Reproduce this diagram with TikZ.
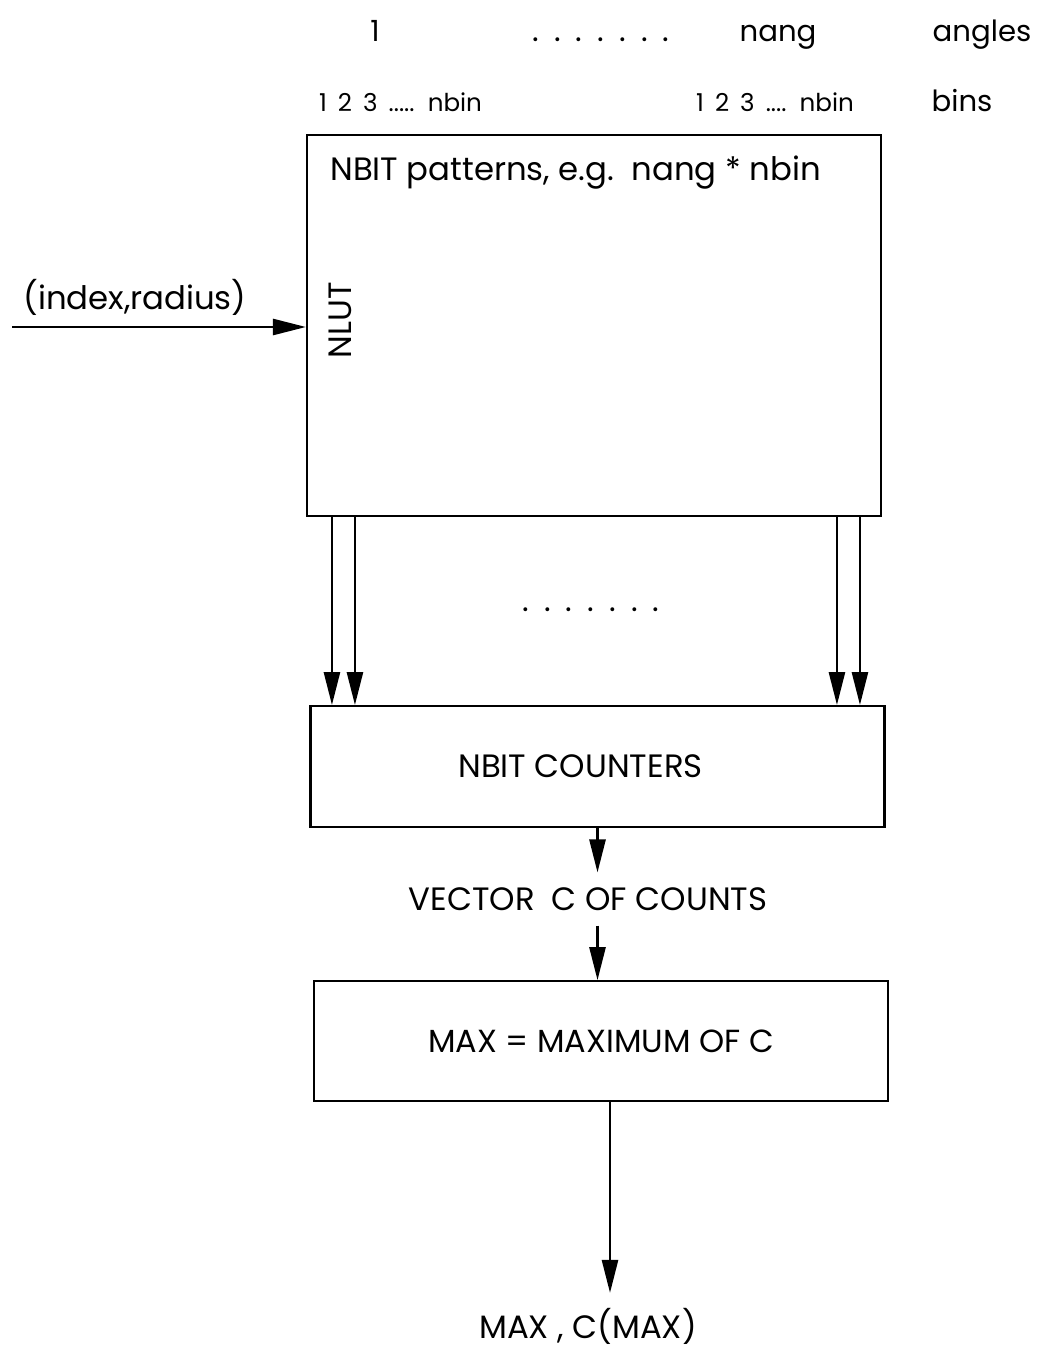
\documentclass[tikz,border=0pt]{standalone}
\usepackage{fontspec}
\setmainfont{Poppins}
\usetikzlibrary{arrows.meta,positioning}
\tikzset{
  box/.style={draw, line width=1.2pt, minimum width=11.48cm, inner sep=0pt,
              font=\fontsize{18.2}{22}\selectfont},
  lbl/.style={inner sep=0pt, font=\fontsize{18.4}{22}\selectfont},
  big/.style={inner sep=0pt, font=\fontsize{16.6}{20}\selectfont},
  small/.style={inner sep=0pt, font=\fontsize{14}{17}\selectfont,
                execute at begin node={\spaceskip=0.45em\relax}},
  dotrow/.style={inner sep=0pt, font=\fontsize{18}{22}\selectfont,
                 execute at begin node={\spaceskip=7pt\relax}},
  arr/.style={-{Triangle[length=0.66cm, width=0.32cm]}, line width=1.5pt},
}

\begin{document}
\begin{tikzpicture}
\useasboundingbox (0,0) rectangle (20.74,-26.94);

% angles and bins
\node[big, anchor=base] (first) at (7.50,-0.84) {1};
\node[dotrow, anchor=base] (topdots) at (12.02,-0.84) {. . . . . . .};
\node[big, anchor=base] (nang) at (15.56,-0.84) {nang};
\node[big, anchor=base] (angles) at (19.64,-0.84) {angles};
\node[small, anchor=base] (binsA) at (8.01,-2.24) {1 2 3 ..... nbin};
\node[small, anchor=base] (binsB) at (15.50,-2.24) {1 2 3 .... nbin};
\node[big, anchor=base] (bins) at (19.24,-2.24) {bins};

% boxes
\node[box, minimum height=7.62cm] (patterns) at (11.88,-6.51) {};
\node[lbl, anchor=north west] (ptext) at ([xshift=0.48cm, yshift=-0.44cm]patterns.north west) {NBIT patterns, e.g.\ \ nang * nbin};
\node[lbl, rotate=90] (nlut) at (6.80,-6.40) {NLUT};
\node[box, minimum height=2.42cm, below=3.76cm of patterns, xshift=0.07cm,
      label={[lbl, xshift=-0.34cm]center:NBIT COUNTERS}] (counters) {};
\node[dotrow, anchor=base] (middots) at (11.82,-12.22) {. . . . . . .};
\node[lbl, outer sep=0.3cm] (vector) at (11.76,-17.98) {VECTOR\ \ C OF COUNTS};
\node[box, minimum height=2.40cm, below=3.04cm of counters, xshift=0.07cm] (maxbox) {MAX = MAXIMUM OF C};
\node[lbl, outer sep=0.3cm] (result) at (11.76,-26.52) {MAX , C(MAX)};

% input
\coordinate (src) at (0.24,-6.54);
\node[lbl] (input) at (2.70,-5.94) {(index,radius)};

\draw[arr] (src) -- (src -| patterns.west);
\foreach \dx in {0.52,0.98,10.62,11.08}
  \draw[arr] ([xshift=\dx cm]patterns.south west) -- ([xshift=\dx cm]patterns.south west |- counters.north);
\draw[arr] (counters.south) -- (counters.south |- vector.north);
\draw[arr] (counters.south |- vector.south) -- (counters.south |- maxbox.north);
\draw[arr] ([xshift=0.18cm]maxbox.south) -- ([xshift=0.18cm]maxbox.south |- result.north);
\end{tikzpicture}
\end{document}
